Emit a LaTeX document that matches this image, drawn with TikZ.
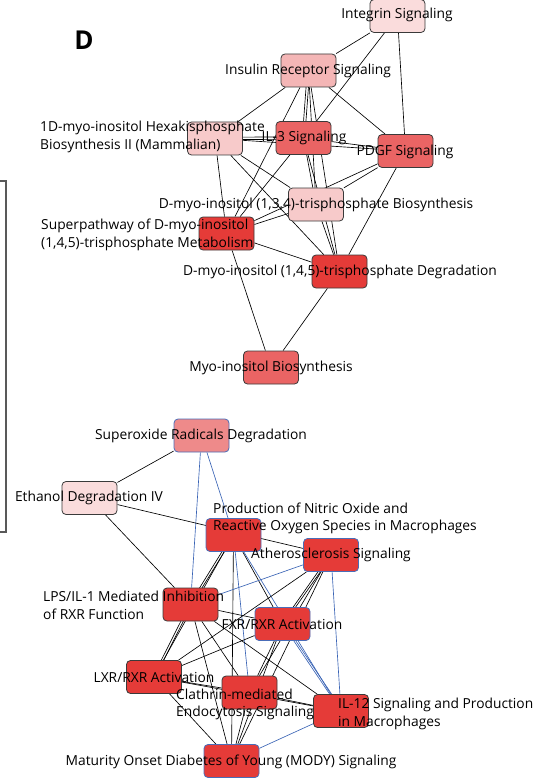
\documentclass[tikz,border=0pt]{standalone}
\usepackage{fontspec}
\setmainfont{Open Sans}
\usetikzlibrary{backgrounds}
\definecolor{pale}{RGB}{250,220,220}
\definecolor{light}{RGB}{247,202,202}
\definecolor{rose}{RGB}{244,182,182}
\definecolor{salmon}{RGB}{238,138,138}
\definecolor{mid}{RGB}{234,100,100}
\definecolor{hot}{RGB}{229,59,56}
\definecolor{rimdark}{RGB}{58,58,58}
\definecolor{rimblue}{RGB}{74,109,184}
\definecolor{edgeblue}{RGB}{58,100,181}

\begin{document}
\begin{tikzpicture}[
  x=1pt, y=-1pt,
  font=\fontsize{13.8}{17.5}\selectfont,
  box/.style={draw=rimdark, line width=0.8pt, rounded corners=4pt, minimum width=55pt, minimum height=33pt, inner sep=0pt},
  bluebox/.style={box, draw=rimblue},
  nodetext/.style={inner sep=0pt, align=center},
  lefttext/.style={inner sep=0pt, align=left, anchor=west},
  link/.style={line width=0.65pt},
  bluelink/.style={line width=0.65pt, draw=edgeblue},
  bracket/.style={draw=black!65, line width=1.5pt}
]
\path[use as bounding box] (0,0) rectangle (549,778);
\node[font=\bfseries\fontsize{26}{26}\selectfont] (panel) at (84,40) {D};
\draw[bracket] (0,181) -- (6,181) -- (6,532) -- (0,532);

% Upper cluster: inositol phosphate pathways
\node[box, fill=pale] (int) at (397.5,16) {};
\node[box, fill=rose] (ins) at (308.5,70.5) {};
\node[box, fill=light] (hex) at (215,138.5) {};
\node[box, fill=mid] (il3) at (303.5,138) {};
\node[box, fill=mid] (pdgf) at (405.5,151) {};
\node[box, fill=light] (bio) at (316,204.5) {};
\node[box, fill=hot] (sup) at (226.5,233.5) {};
\node[box, fill=hot] (deg) at (339.5,271.5) {};
\node[box, fill=mid] (myo) at (271,367.5) {};

% Lower cluster: nuclear receptor and immune pathways
\node[bluebox, fill=salmon] (sox) at (201.5,435.5) {};
\node[box, fill=pale] (eth) at (89.5,498) {};
\node[bluebox, fill=hot] (pno) at (233.5,535) {};
\node[bluebox, fill=hot] (ath) at (331,555) {};
\node[box, fill=hot] (lps) at (190.5,604.5) {};
\node[bluebox, fill=hot] (fxr) at (282.5,624) {};
\node[box, fill=hot] (lxr) at (154,677) {};
\node[box, fill=hot] (cla) at (249.5,692.5) {};
\node[box, fill=hot] (il12) at (341,711) {};
\node[bluebox, fill=hot] (mody) at (231.5,761) {};

\begin{scope}[on background layer]
\draw[link] (int) -- (ins);
\draw[link] (int) -- (il3);
\draw[link] (int) -- (pdgf);
\draw[link] (ins) -- (hex);
\draw[link] ([xshift=-1.2pt]ins.center) -- ([xshift=-1.2pt]il3.center);
\draw[link] ([xshift=1.2pt]ins.center) -- ([xshift=1.2pt]il3.center);
\draw[link] (ins) -- (pdgf);
\draw[link] (ins) -- (sup);
\draw[link] (ins) -- (bio);
\draw[link] (ins) -- (deg);
\draw[link] ([yshift=1.2pt]hex.center) -- ([yshift=1.2pt]il3.center);
\draw[link] ([yshift=-1.2pt]hex.center) -- ([yshift=-1.2pt]il3.center);
\draw[link] (hex) -- (pdgf);
\draw[link] (hex) -- (sup);
\draw[link] (hex) -- (bio);
\draw[link] (hex) -- (deg);
\draw[link] (il3) -- (pdgf);
\draw[link] (il3) -- (bio);
\draw[link] (il3) -- (deg);
\draw[link] (il3) -- (sup);
\draw[link] (pdgf) -- (bio);
\draw[link] (pdgf) -- (sup);
\draw[link] (pdgf) -- (deg);
\draw[link] (sup) -- (bio);
\draw[link] (sup) -- (deg);
\draw[link] (sup) -- (myo);
\draw[link] (bio) -- (deg);
\draw[link] (deg) -- (myo);

\draw[link] (sox) -- (eth);
\draw[bluelink] (sox) -- (lps);
\draw[bluelink] (sox) -- (pno);
\draw[link] (eth) -- (ath);
\draw[link] (eth) -- (lps);
\draw[link] ([xshift=-1.2pt]pno.center) -- ([xshift=-1.2pt]lps.center);
\draw[link] ([xshift=1.2pt]pno.center) -- ([xshift=1.2pt]lps.center);
\draw[link] (pno) -- (lxr);
\draw[link] (pno) -- (mody);
\draw[bluelink] (pno) -- (cla);
\draw[link] (pno) -- (fxr);
\draw[bluelink] (pno) -- (il12);
\draw[bluelink] (lps) -- (ath);
\draw[link] (ath) -- (lxr);
\draw[link] ([xshift=-1.2pt]ath.center) -- ([xshift=-1.2pt]fxr.center);
\draw[link] ([xshift=1.2pt]ath.center) -- ([xshift=1.2pt]fxr.center);
\draw[link] (ath) -- (cla);
\draw[link] (ath) -- (mody);
\draw[bluelink] (ath) -- (il12);
\draw[link] (lps) -- (fxr);
\draw[link] (lps) -- (il12);
\draw[link] ([xshift=-1.2pt]lps.center) -- ([xshift=-1.2pt]lxr.center);
\draw[link] ([xshift=1.2pt]lps.center) -- ([xshift=1.2pt]lxr.center);
\draw[link] (lps) -- (cla);
\draw[link] (lps) -- (mody);
\draw[link] (lxr) -- (fxr);
\draw[link] (lxr) -- (cla);
\draw[link] (lxr) -- (il12);
\draw[link] (lxr) -- (mody);
\draw[link] (fxr) -- (cla);
\draw[link] (fxr) -- (mody);
\draw[bluelink] (fxr) -- (il12);
\draw[bluelink] ([xshift=2pt]fxr.center) -- ([xshift=2pt]il12.center);
\draw[link] (cla) -- (il12);
\draw[link] (cla) -- (mody);
\draw[bluelink] (il12) -- (mody);
\end{scope}

% Labels
\node[nodetext] (int-t) at (397,15) {Integrin Signaling};
\node[nodetext] (ins-t) at (308,71) {Insulin Receptor Signaling};
\node[lefttext] (hex-t) at (40,137) {1D-myo-inositol Hexakisphosphate\\Biosynthesis II (Mammalian)};
\node[nodetext] (il3-t) at (304,138) {IL-3 Signaling};
\node[nodetext] (pdgf-t) at (405,152) {PDGF Signaling};
\node[nodetext] (bio-t) at (316,205) {D-myo-inositol (1,3,4)-trisphosphate Biosynthesis};
\node[lefttext] (sup-t) at (41,235) {Superpathway of D-myo-inositol\\(1,4,5)-trisphosphate Metabolism};
\node[nodetext] (deg-t) at (340,272) {D-myo-inositol (1,4,5)-trisphosphate Degradation};
\node[nodetext] (myo-t) at (271,368) {Myo-inositol Biosynthesis};
\node[nodetext] (sox-t) at (201,436) {Superoxide Radicals Degradation};
\node[nodetext] (eth-t) at (89,498) {Ethanol Degradation IV};
\node[lefttext] (pno-t) at (213,518.5) {Production of Nitric Oxide and\\Reactive Oxygen Species in Macrophages};
\node[nodetext] (ath-t) at (331,555) {Atherosclerosis Signaling};
\node[lefttext] (lps-t) at (43,605.5) {LPS/IL-1 Mediated Inhibition\\of RXR Function};
\node[nodetext] (fxr-t) at (282,624) {FXR/RXR Activation};
\node[nodetext] (lxr-t) at (154,677) {LXR/RXR Activation};
\node[lefttext] (cla-t) at (176,704.5) {Clathrin-mediated\\Endocytosis Signaling};
\node[lefttext] (il12-t) at (338,714) {IL-12 Signaling and Production\\in Macrophages};
\node[nodetext] (mody-t) at (231,762) {Maturity Onset Diabetes of Young (MODY) Signaling};
\end{tikzpicture}
\end{document}
